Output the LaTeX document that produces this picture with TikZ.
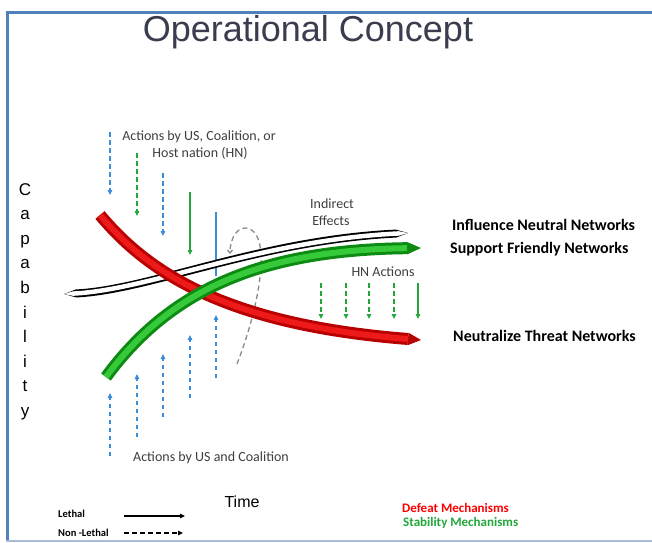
\documentclass[tikz,border=0pt]{standalone}
\usepackage{fontspec}
\setmainfont{Carlito}
\newfontfamily\arialfont{Liberation Sans}
\usetikzlibrary{arrows.meta}

\definecolor{framebl}{HTML}{4F81BD}
\definecolor{framelt}{HTML}{A9BBD8}
\definecolor{titlegray}{HTML}{3A3D4E}
\definecolor{notegray}{HTML}{3F3F3F}
\definecolor{usblue}{HTML}{3B8DDA}
\definecolor{hngreen}{HTML}{22A83A}
\definecolor{redouter}{HTML}{B80000}
\definecolor{redinner}{HTML}{EE1A1A}
\definecolor{grnouter}{HTML}{0C8A12}
\definecolor{grninner}{HTML}{36C93A}
\definecolor{loopgray}{HTML}{8A8A8A}

\tikzset{
  lethal/.style={line width=1.4pt, -{Triangle[length=5pt,width=4.5pt]}},
  nonlethal/.style={lethal, dash pattern=on 4.5pt off 3.5pt},
  note/.style={text=notegray, font=\fontsize{14}{16}\selectfont, inner sep=0pt},
  netlabel/.style={anchor=base west, font=\bfseries\fontsize{16}{18}\selectfont, inner sep=0pt},
  keylabel/.style={anchor=base west, font=\bfseries\fontsize{13}{15}\selectfont, inner sep=0pt},
}

\begin{document}
\begin{tikzpicture}[x=1pt, y=-1pt]
        \useasboundingbox[fill=white] (0,0) rectangle (652,542);
        \draw[framebl, line width=3pt] (7.5,541) -- (7.5,12.5) -- (652,12.5); % slide frame
        \draw[framelt, line width=1.5pt] (6,541) -- (652,541);

        \node[anchor=base, text=titlegray, inner sep=0pt, font=\arialfont\fontsize{36}{40}\selectfont] (title) at (308,41) {Operational Concept};

        % y axis label, one letter per line
        \foreach \ch [count=\i from 0] in {C,a,p,a,b,i,l,i,t,y}
            \node[anchor=base, inner sep=0pt, font=\arialfont\fontsize{17}{20}\selectfont] (cap\i) at (25,195+24.6*\i) {\ch};

        % actions from above
        \foreach \x/\ytop/\col in {110/132/usblue, 137/153/hngreen, 163/173/usblue}
            \draw[nonlethal, \col] (\x,\ytop) -- ++(0,63);
        \draw[lethal, hngreen] (190,192) -- (190,255);
        \draw[line width=1.4pt, usblue] (216,212) -- (216,276);

        % indirect effects loop
        \draw[loopgray, line width=1.3pt, dash pattern=on 5pt off 3.5pt, -{Straight Barb[length=3pt,width=5pt]}] (237,364) .. controls (258,310) and (272,240) .. (250,229) .. controls (238,224) and (230,238) .. (230,254);

        % influence neutral networks
        \draw[black, line width=8pt, {Triangle[length=12pt,width=8pt,line width=0pt]}-{Triangle[length=12pt,width=8pt,line width=0pt]}] (64,294) .. controls (150,290) and (260,240) .. (408,233);
        \draw[white, line width=4.5pt, {Triangle[length=9pt,width=4.5pt,line width=0pt]}-{Triangle[length=9pt,width=4.5pt,line width=0pt]}] (64,294) .. controls (150,290) and (260,240) .. (408,233);

        % neutralize threat networks
        \draw[redouter, line width=12pt, -{Triangle[length=13pt,width=12.5pt,line width=0pt]}] (100,215) .. controls (150,275) and (230,325) .. (421,340);
        \draw[redinner, line width=6pt, shorten >=13pt] (100,215) .. controls (150,275) and (230,325) .. (421,340);

        % support friendly networks
        \draw[grnouter, line width=12pt, -{Triangle[length=14pt,width=12.5pt,line width=0pt]}] (106,377) .. controls (170,290) and (260,250) .. (421,248);
        \draw[grninner, line width=6pt, shorten >=14pt] (106,377) .. controls (170,290) and (260,250) .. (421,248);

        % actions from below
        \foreach \x/\ybot in {110/456, 137/437, 163/417, 190/398, 216/378}
            \draw[nonlethal, usblue] (\x,\ybot) -- ++(0,-63);

        % HN actions
        \foreach \x in {321,346,369,394}
            \draw[nonlethal, hngreen] (\x,283) -- (\x,319);
        \draw[lethal, hngreen] (418,283) -- (418,319);

        \node[note, anchor=base] (topnoteA) at (199,140) {Actions by US, Coalition, or};
        \node[note, anchor=base] (topnoteB) at (200,157) {Host nation (HN)};
        \node[note, anchor=base] (indirA) at (332,208) {Indirect};
        \node[note, anchor=base] (indirB) at (331,225) {Effects};
        \node[note, anchor=base] (hnnote) at (383,276) {HN Actions};
        \node[note, anchor=base west] (botnote) at (133,461) {Actions by US and Coalition};

        \node[netlabel] (influence) at (452,230) {Influence Neutral Networks};
        \node[netlabel] (support) at (450,253) {Support Friendly Networks};
        \node[netlabel] (neutralize) at (453,341) {Neutralize Threat Networks};

        \node[anchor=base, inner sep=0pt, font=\arialfont\fontsize{16}{18}\selectfont] (time) at (242,507) {Time};

        % legend
        \node[keylabel, font=\bfseries\fontsize{10.5}{12}\selectfont] (lethalkey) at (58,517) {Lethal};
        \node[keylabel, font=\bfseries\fontsize{10.5}{12}\selectfont] (nonlethalkey) at (58,536) {Non -Lethal};
        \draw[lethal, line width=1.2pt] (124,516) -- (185,516);
        \draw[nonlethal, line width=1.2pt] (124,533) -- (183,533);
        \node[keylabel, text=red] (defeat) at (402,512) {Defeat Mechanisms};
        \node[keylabel, text=hngreen] (stability) at (403,526) {Stability Mechanisms};
    \end{tikzpicture}
\end{document}
